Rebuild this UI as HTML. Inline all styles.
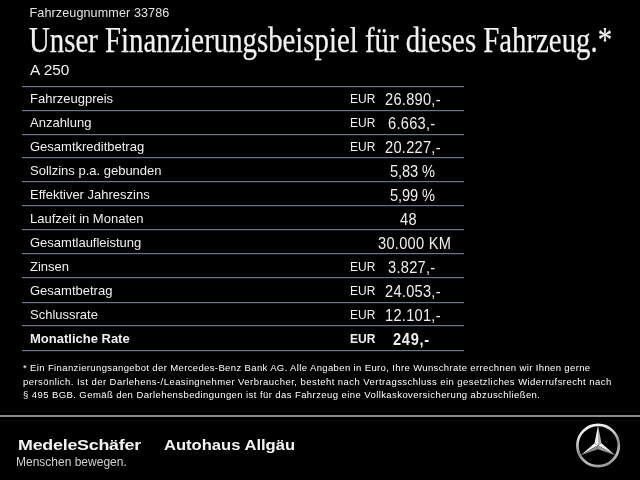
<!DOCTYPE html>
<html><head><meta charset="utf-8">
<style>
html,body{margin:0;padding:0;background:#000;}
body{will-change:transform;width:640px;height:480px;position:relative;overflow:hidden;font-family:"Liberation Sans",sans-serif;color:#efefef;}
.a{position:absolute;white-space:nowrap;}
#fn{left:29.5px;top:6px;font-size:12.6px;letter-spacing:0.1px;color:#e4e4e4;}
#title{left:29px;top:19px;font-family:"Liberation Serif",serif;font-size:36px;transform-origin:0 0;transform:scaleX(0.80);color:#f2f2f2;-webkit-text-stroke:0.25px #f2f2f2;}
#model{left:30px;top:61px;font-size:15.4px;}
.ln{position:absolute;left:22px;width:442px;height:1px;background:#687888;box-shadow:0 1px 0 #0f161f;}
.lbl{position:absolute;left:30px;font-size:13px;white-space:nowrap;}
.cur{position:absolute;left:350px;font-size:12px;white-space:nowrap;}
.val{position:absolute;font-size:15.9px;letter-spacing:0.3px;white-space:nowrap;transform-origin:0 0;transform:scaleX(0.92);}
.foot{left:23px;font-size:9.5px;line-height:13.5px;color:#fff;}
#hr{position:absolute;left:0;top:415px;width:640px;height:2px;background:#8c8c8c;}
#ms{left:17.5px;top:436px;font-size:15px;font-weight:bold;letter-spacing:-0.2px;transform-origin:0 0;transform:scaleX(1.19);color:#f4f4f4;}
#mb{left:16px;top:455px;font-size:12px;color:#d0d0d0;}
#aa{left:164px;top:436px;font-size:15px;font-weight:bold;transform-origin:0 0;transform:scaleX(1.105);color:#f4f4f4;}
#star{position:absolute;left:574px;top:421px;}
</style></head><body>
<div class="a" id="fn">Fahrzeugnummer 33786</div>
<div class="a" id="title">Unser Finanzierungsbeispiel für dieses Fahrzeug.*</div>
<div class="a" id="model">A 250</div>

<div class="ln" style="top:86px"></div>
<div class="ln" style="top:110px"></div>
<div class="ln" style="top:134px"></div>
<div class="ln" style="top:157px"></div>
<div class="ln" style="top:181px"></div>
<div class="ln" style="top:205px"></div>
<div class="ln" style="top:229px"></div>
<div class="ln" style="top:253px"></div>
<div class="ln" style="top:277px"></div>
<div class="ln" style="top:302px"></div>
<div class="ln" style="top:325px"></div>
<div class="ln" style="top:350px"></div>

<div class="lbl" style="top:91px">Fahrzeugpreis</div>
<div class="lbl" style="top:115px">Anzahlung</div>
<div class="lbl" style="top:139px">Gesamtkreditbetrag</div>
<div class="lbl" style="top:163px">Sollzins p.a. gebunden</div>
<div class="lbl" style="top:187px">Effektiver Jahreszins</div>
<div class="lbl" style="top:211px">Laufzeit in Monaten</div>
<div class="lbl" style="top:235px">Gesamtlaufleistung</div>
<div class="lbl" style="top:259px">Zinsen</div>
<div class="lbl" style="top:283px">Gesamtbetrag</div>
<div class="lbl" style="top:307px">Schlussrate</div>
<div class="lbl" style="top:331px;font-weight:bold">Monatliche Rate</div>

<div class="cur" style="top:92px">EUR</div>
<div class="cur" style="top:116px">EUR</div>
<div class="cur" style="top:140px">EUR</div>
<div class="cur" style="top:260px">EUR</div>
<div class="cur" style="top:284px">EUR</div>
<div class="cur" style="top:308px">EUR</div>
<div class="cur" style="top:332px;font-weight:bold">EUR</div>

<div class="val" style="top:91px;left:385px">26.890,-</div>
<div class="val" style="top:115px;left:388px">6.663,-</div>
<div class="val" style="top:139px;left:385px">20.227,-</div>
<div class="val" style="top:163px;left:390px;letter-spacing:-0.1px">5,83 %</div>
<div class="val" style="top:187px;left:390px;letter-spacing:-0.1px">5,99 %</div>
<div class="val" style="top:211px;left:400px">48</div>
<div class="val" style="top:235px;left:378px">30.000 KM</div>
<div class="val" style="top:259px;left:388px">3.827,-</div>
<div class="val" style="top:283px;left:385px">24.053,-</div>
<div class="val" style="top:307px;left:385px">12.101,-</div>
<div class="val" style="top:331px;left:393px;font-weight:bold;letter-spacing:0.75px">249,-</div>

<div class="a foot" style="top:361px;letter-spacing:0.37px">* Ein Finanzierungsangebot der Mercedes-Benz Bank AG. Alle Angaben in Euro, Ihre Wunschrate errechnen wir Ihnen gerne</div>
<div class="a foot" style="top:374.5px;letter-spacing:0.45px">persönlich. Ist der Darlehens-/Leasingnehmer Verbraucher, besteht nach Vertragsschluss ein gesetzliches Widerrufsrecht nach</div>
<div class="a foot" style="top:388px;letter-spacing:0.42px">§ 495 BGB. Gemäß den Darlehensbedingungen ist für das Fahrzeug eine Vollkaskoversicherung abzuschließen.</div>

<div id="hr"></div>

<div class="a" id="ms">MedeleSchäfer</div>
<div class="a" id="mb">Menschen bewegen.</div>
<div class="a" id="aa">Autohaus Allgäu</div>

<svg id="star" width="48" height="48" viewBox="0 0 48 48">
<defs>
<linearGradient id="rg" x1="0.2" y1="0" x2="0.5" y2="1">
<stop offset="0" stop-color="#ffffff"/>
<stop offset="0.35" stop-color="#c8c8c8"/>
<stop offset="0.6" stop-color="#8e8e8e"/>
<stop offset="0.85" stop-color="#c0c0c0"/>
<stop offset="1" stop-color="#a0a0a0"/>
</linearGradient>
</defs>
<circle cx="24.1" cy="24.5" r="20.7" fill="none" stroke="url(#rg)" stroke-width="2.7"/>
<g transform="translate(24 24.3)">
<polygon points="0,-19.8 -3.5,-2 0,0" fill="#f0f0f0"/>
<polygon points="0,-19.8 3.5,-2 0,0" fill="#b4b4b4"/>
<polygon points="17.2,9.9 3.5,-2 0,0" fill="#f0f0f0"/>
<polygon points="17.2,9.9 0,4 0,0" fill="#989898"/>
<polygon points="-17.2,9.9 -3.5,-2 0,0" fill="#f4f4f4"/>
<polygon points="-17.2,9.9 0,4 0,0" fill="#888888"/>
</g>
</svg>
</body></html>
